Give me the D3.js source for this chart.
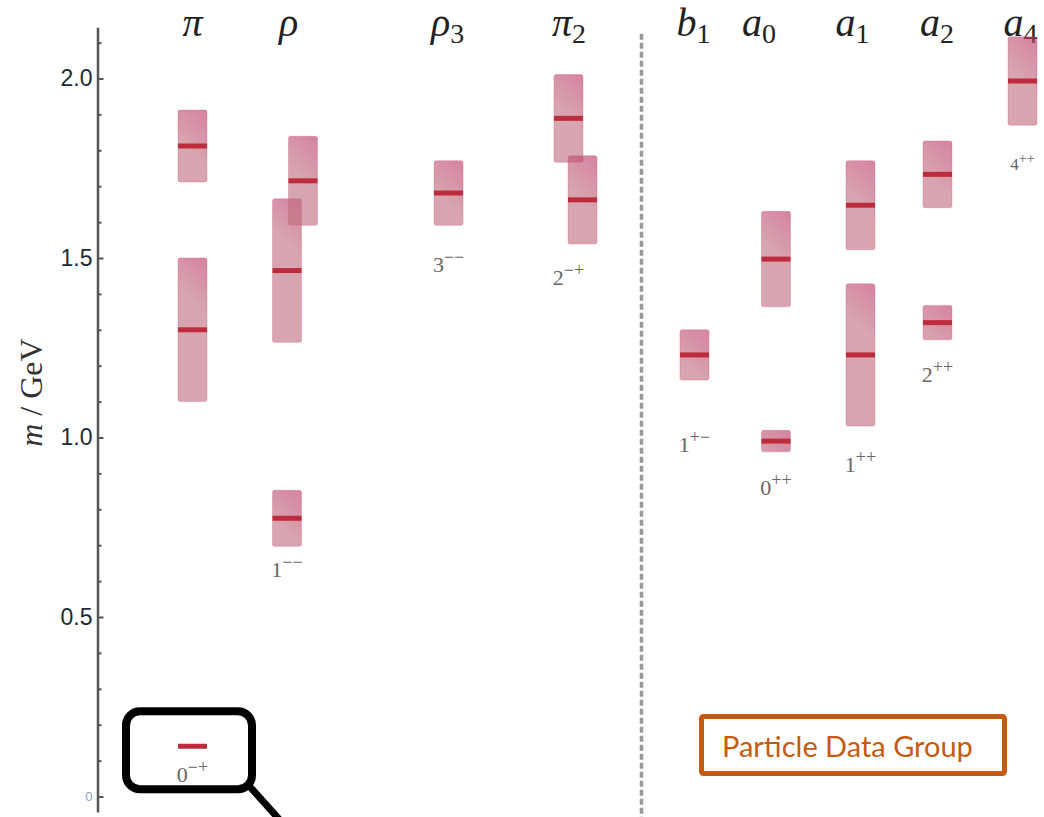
<!DOCTYPE html>
<html>
<head>
<meta charset="utf-8">
<script src="https://cdn.jsdelivr.net/npm/d3@7"></script>
<style>
  html, body { margin: 0; padding: 0; background: #fff; }
  svg { display: block; }
</style>
</head>
<body>
<svg id="chart" width="1044" height="817"></svg>
<script>
// ---------------- data ----------------
const columns      = ["π", "ρ", "ρ3", "π2", "b1", "a0", "a1", "a2", "a4"];
const headerBase   = ["π", "ρ", "ρ", "π", "b", "a", "a", "a", "a"];
const headerSub    = ["", "", "3", "2", "1", "0", "1", "2", "4"];
const headerSlot   = [0, 1.143, 3.036, 4.482, 5.964, 6.744, 7.857, 8.863, 9.857];
const jpcSpin      = ["0", "1", "3", "2", "1", "0", "1", "2", "4"];
const jpcPC        = ["−+", "−−", "−−", "−+", "+−", "++", "++", "++", "++"];
const jpcLabelMass = [0.040, 0.612, 1.461, 1.425, 0.960, 0.840, 0.904, 1.155, 1.745];
const jpcSlot      = [0, 1.125, 3.048, 4.476, 5.976, 6.946, 7.952, 8.869, 9.881];

const stateColumn    = ["π","π","π","ρ","ρ","ρ","ρ3","π2","π2","b1","a0","a0","a1","a1","a2","a2","a4"];
const stateMass      = [0.140, 1.300, 1.812, 0.775, 1.465, 1.715, 1.681, 1.889, 1.662, 1.230, 0.990, 1.497, 1.230, 1.647, 1.320, 1.733, 1.993];
const stateHalfWidth = [0.000, 0.200, 0.100, 0.078, 0.200, 0.124, 0.090, 0.122, 0.123, 0.070, 0.030, 0.133, 0.198, 0.124, 0.048, 0.093, 0.123];
const stateSlot      = [0, 0, 0, 1.125, 1.125, 1.315, 3.048, 4.476, 4.643, 5.976, 6.946, 6.946, 7.952, 7.952, 8.869, 8.869, 9.881];

const majorTicks = [0, 0.5, 1.0, 1.5, 2.0];
const minorTicks = [0.1,0.2,0.3,0.4,0.6,0.7,0.8,0.9,1.1,1.2,1.3,1.4,1.6,1.7,1.8,1.9,2.1];
const yDomain = [-0.043, 2.143];
const dividerSlot = 5.345;
const annotationText = "Particle Data Group";

// ---------------- scales ----------------
const svg = d3.select("#chart");
const y = d3.scaleLinear().domain(yDomain).range([796.5 + 0.043 * 359, 796.5 - 2.143 * 359]);
const x = d3.scaleLinear().domain([0, 1]).range([192.5, 276.5]);
const boxW = 29;

const defs = svg.append("defs");

// ---------------- axis ----------------
const axisX = 97.5;
const gAxis = svg.append("g").attr("transform", `translate(${axisX},0)`);
gAxis.call(d3.axisLeft(y).tickValues(majorTicks).tickSizeInner(-6).tickSizeOuter(0).tickPadding(5)
  .tickFormat(d => d === 0 ? "0" : d3.format(".1f")(d)));
gAxis.select(".domain").attr("stroke", "#555").attr("stroke-width", 2.5);
gAxis.selectAll(".tick line").attr("stroke", "#555").attr("stroke-width", 2);
gAxis.selectAll(".tick text")
  .attr("font-family", "Liberation Sans, Arial, sans-serif")
  .attr("font-size", d => d === 0 ? 13 : 23)
  .attr("fill", d => d === 0 ? "#7f9fc4" : "#1e2a38");
const gMinor = svg.append("g").attr("transform", `translate(${axisX},0)`);
gMinor.call(d3.axisLeft(y).tickValues(minorTicks).tickSizeInner(-4).tickSizeOuter(0).tickFormat(""));
gMinor.select(".domain").remove();
gMinor.selectAll(".tick line").attr("stroke", "#555").attr("stroke-width", 2);

// y label
svg.append("text")
  .attr("transform", `translate(42,${(y(0.95) + y(1.3)) / 2}) rotate(-90)`)
  .attr("text-anchor", "middle")
  .attr("font-family", "Liberation Serif, Times New Roman, serif")
  .attr("font-size", 32)
  .attr("fill", "#333")
  .call(t => {
    t.append("tspan").attr("font-style", "italic").text("m");
    t.append("tspan").text(" / GeV");
  });

// divider
svg.append("line")
  .attr("x1", x(dividerSlot)).attr("x2", x(dividerSlot))
  .attr("y1", y(2.125)).attr("y2", 817)
  .attr("stroke", "#999").attr("stroke-width", 3.5)
  .attr("stroke-dasharray", "6,3");

// ---------------- headers ----------------
svg.append("g").selectAll("text").data(columns).join("text")
  .attr("x", (d, i) => x(headerSlot[i]))
  .attr("y", 36)
  .attr("text-anchor", "middle")
  .attr("font-family", "Liberation Serif, Times New Roman, serif")
  .attr("font-size", 40)
  .attr("fill", "#222")
  .each(function(d, i) {
    const t = d3.select(this);
    t.append("tspan").attr("font-style", "italic").text(headerBase[i]);
    if (headerSub[i]) t.append("tspan").attr("font-size", 28).attr("dy", 7).text(headerSub[i]);
  });

// ---------------- states ----------------
const states = stateMass.map((m, i) => ({
  col: stateColumn[i], m, hw: stateHalfWidth[i], slot: stateSlot[i], i
}));

const gStates = svg.append("g");
states.forEach(s => {
  const cx = x(s.slot);
  const top = y(s.m + s.hw), bot = y(s.m - s.hw);
  if (s.hw > 0) {
    const gid = "grad" + s.i;
    const g = defs.append("linearGradient").attr("id", gid)
      .attr("gradientUnits", "userSpaceOnUse")
      .attr("x1", cx + boxW / 2).attr("y1", top)
      .attr("x2", cx - boxW / 2).attr("y2", top + 32);
    g.append("stop").attr("offset", 0).attr("stop-color", "rgb(188,55,103)");
    g.append("stop").attr("offset", 1).attr("stop-color", "rgb(191,111,127)");
    gStates.append("rect")
      .attr("x", cx - boxW / 2).attr("y", top)
      .attr("width", boxW).attr("height", bot - top)
      .attr("rx", 2)
      .attr("fill", `url(#${gid})`).attr("fill-opacity", 0.62)
      .attr("stroke", "rgba(205,100,135,0.35)").attr("stroke-width", 1);
  }
});
states.forEach(s => {
  const cx = x(s.slot);
  gStates.append("line")
    .attr("x1", cx - boxW / 2).attr("x2", cx + boxW / 2)
    .attr("y1", y(s.m)).attr("y2", y(s.m))
    .attr("stroke", "#bd2c3c").attr("stroke-width", 5);
});

// ---------------- J^PC labels ----------------
svg.append("g").selectAll("text").data(columns).join("text")
  .attr("x", (d, i) => x(jpcSlot[i]))
  .attr("y", (d, i) => y(jpcLabelMass[i]))
  .attr("text-anchor", "middle")
  .attr("font-family", "Liberation Serif, Times New Roman, serif")
  .attr("font-size", (d, i) => i === 8 ? 17 : 22)
  .attr("fill", "#666")
  .each(function(d, i) {
    const t = d3.select(this);
    const small = i === 8;
    t.append("tspan").text(jpcSpin[i]);
    t.append("tspan").attr("font-size", small ? 14 : 18).attr("dy", small ? -7 : -9).text(jpcPC[i]);
  });

// ---------------- annotations ----------------
const ax = x(0), ay = y(stateMass[0]) + 4;
svg.append("rect")
  .attr("x", ax - 66.5).attr("y", ay - 39)
  .attr("width", 126).attr("height", 78)
  .attr("rx", 14)
  .attr("fill", "none").attr("stroke", "#000").attr("stroke-width", 8);
svg.append("line")
  .attr("x1", ax + 56).attr("y1", ay + 35)
  .attr("x2", ax + 92).attr("y2", ay + 75)
  .attr("stroke", "#000").attr("stroke-width", 7);

// PDG box
svg.append("rect")
  .attr("x", 701.5).attr("y", 716.5).attr("width", 303).attr("height", 57)
  .attr("rx", 2)
  .attr("fill", "#fff").attr("stroke", "#c55a11").attr("stroke-width", 5);
const pdg = svg.append("text")
  .attr("x", 722).attr("y", 757)
  .attr("font-family", "Lato, Open Sans, sans-serif")
  .attr("font-size", 100)
  .attr("fill", "#c55a11")
  .text(annotationText);
const w100 = pdg.node().getComputedTextLength();
pdg.attr("font-size", 100 * 251 / w100);
</script>
</body>
</html>
